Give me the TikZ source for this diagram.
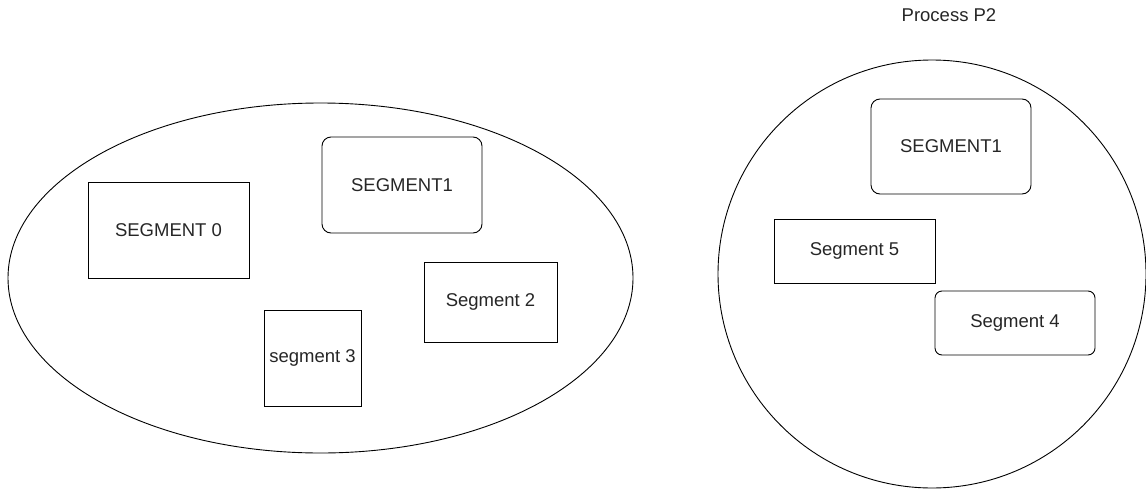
\documentclass[tikz,border=0pt]{standalone}
\usepackage{fontspec}
\setmainfont{Liberation Sans}
\usetikzlibrary{shapes.geometric}

\begin{document}
\begin{tikzpicture}[x=1pt, y=-1pt, line width=0.9pt,
    segbox/.style={draw, rectangle, inner sep=0pt, text=black!85,
        font=\fontsize{18.5}{22}\selectfont},
    roundseg/.style={segbox, rounded corners=9pt},
    procshape/.style={draw, inner sep=0pt}]

        \useasboundingbox (0,0) rectangle (1146,490);

        % Process P1 (left ellipse)
        \node[procshape, ellipse, minimum width=625pt, minimum height=350pt] (p1) at (320.5, 278) {};
        \node[segbox, minimum width=161pt, minimum height=96pt] (s0) at (168.5, 230) {SEGMENT 0};
        \node[roundseg, minimum width=160pt, minimum height=96pt] (s1) at (402, 185) {SEGMENT1};
        \node[segbox, minimum width=133pt, minimum height=80pt] (s2) at (490.5, 302) {Segment 2};
        \node[segbox, minimum width=97pt, minimum height=96pt] (s3) at (312.5, 358) {segment 3};

        % Process P2 (right circle)
        \node[font=\fontsize{18.5}{22}\selectfont, text=black!85] (p2label) at (949, 15) {Process P2};
        \node[procshape, circle, minimum size=428pt] (p2) at (932, 274) {};
        \node[roundseg, minimum width=160pt, minimum height=95pt] (t1) at (951, 146.5) {SEGMENT1};
        \node[segbox, minimum width=161pt, minimum height=64pt] (t5) at (854.5, 251) {Segment 5};
        \node[roundseg, rounded corners=7pt, minimum width=160pt, minimum height=64pt] (t4) at (1015, 323) {Segment 4};

    \end{tikzpicture}
\end{document}
